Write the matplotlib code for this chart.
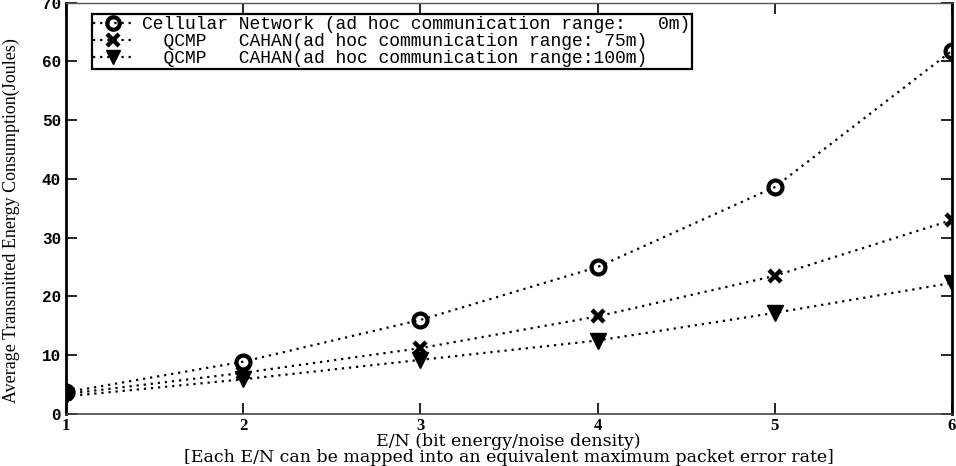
import matplotlib
matplotlib.use('Agg')
import matplotlib.pyplot as plt
import numpy as np

# E/N values and energy consumption for the three schemes
en = [1, 2, 3, 4, 5, 6]
cellular = [3.7, 8.9, 16.0, 25.0, 38.6, 61.8]
cahan75 = [3.4, 7.0, 11.2, 16.6, 23.5, 33.0]
cahan100 = [3.0, 5.9, 9.2, 12.5, 17.2, 22.3]

labels = ['Cellular Network (ad hoc communication range:   0m)',
          '  QCMP   CAHAN(ad hoc communication range: 75m)',
          '  QCMP   CAHAN(ad hoc communication range:100m)']

fig = plt.figure(figsize=(9.56, 4.66), dpi=100)
ax = fig.add_axes([0.069, 0.1116, 0.9268, 0.883])

lw = 1.6
dots = (0, (1, 2.2))
ax.plot(en, cellular, linestyle=dots, color='k', lw=lw, marker='o',
        ms=10, mfc='none', mec='k', mew=3, label=labels[0])
ax.plot(en, cahan75, linestyle=dots, color='k', lw=lw, marker='x',
        ms=9, mec='k', mew=3.2, label=labels[1])
ax.plot(en, cahan100, linestyle=dots, color='k', lw=lw, marker='v',
        ms=11, mfc='k', mec='k', label=labels[2])

ax.set_xlim(1, 6)
ax.set_ylim(0, 70)
ax.set_xticks(en)
ax.set_yticks(np.arange(0, 80, 10))

ax.tick_params(direction='in', length=8, width=1.2, top=True, right=True)
ax.tick_params(axis='x', pad=3)
for t in ax.get_xticklabels():
    t.set_fontfamily('Liberation Serif')
    t.set_fontweight('bold')
    t.set_fontsize(12)
for t in ax.get_yticklabels():
    t.set_fontfamily('Liberation Mono')
    t.set_fontweight('bold')
    t.set_fontsize(11.5)

ax.spines['left'].set_linewidth(2)
ax.spines['right'].set_linewidth(2)
ax.spines['top'].set_linewidth(1)
ax.spines['bottom'].set_linewidth(1.2)
ax.spines['top'].set_color('#555555')
ax.spines['bottom'].set_color('#444444')

ax.set_ylabel('Average Transmitted Energy Consumption(Joules)',
              fontfamily='Liberation Serif', fontsize=13)
ax.yaxis.set_label_coords(-0.052, 0.47)

fig.text(0.532, 0.053, 'E/N (bit energy/noise density)', ha='center', va='center',
         fontfamily='DejaVu Serif', fontsize=12.5)
fig.text(0.532, 0.018, '[Each E/N can be mapped into an equivalent maximum packet error rate]',
         ha='center', va='center', fontfamily='DejaVu Serif', fontsize=12.5)

leg = ax.legend(loc='upper left', bbox_to_anchor=(0.029, 0.972),
                prop={'family': 'Liberation Mono', 'size': 13},
                handlelength=2.2, handletextpad=0.5, labelspacing=0.0,
                borderpad=0.1, borderaxespad=0, fancybox=False, framealpha=1,
                edgecolor='k', markerscale=0.9)
leg.get_frame().set_linewidth(1.6)

fig.savefig('out.png', dpi=100)
